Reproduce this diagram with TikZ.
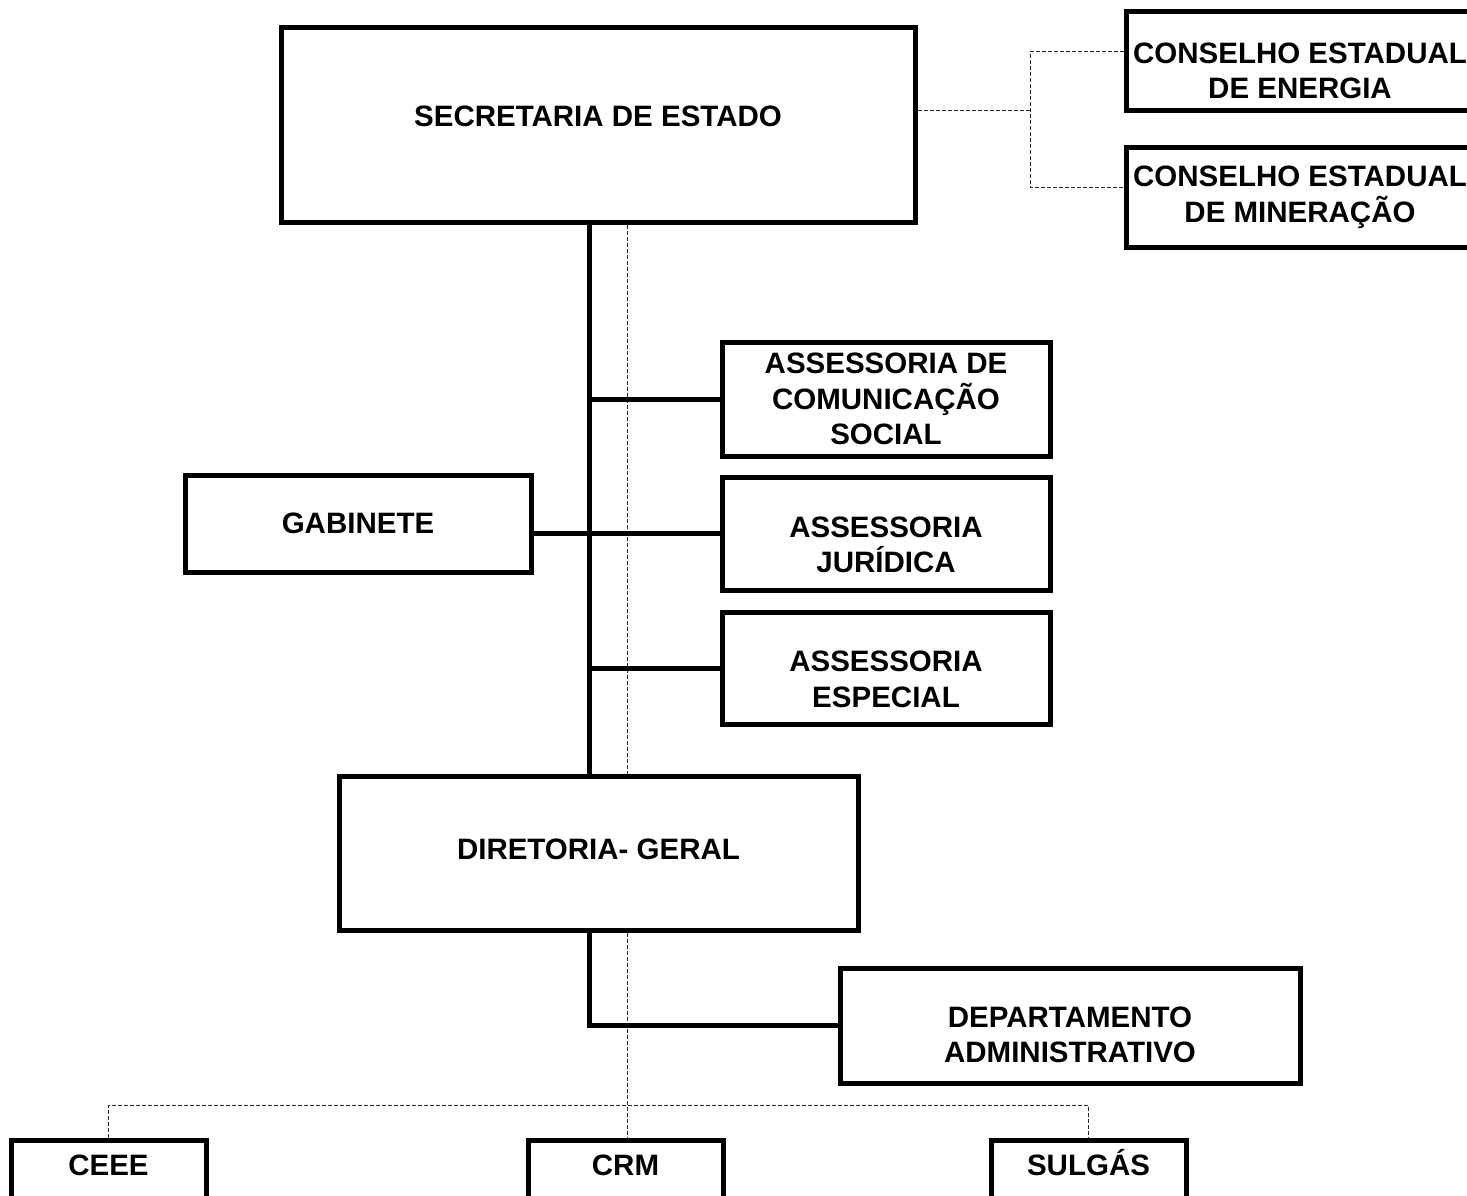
\documentclass[tikz,border=0pt]{standalone}
\usepackage{fontspec}
\setmainfont{Liberation Sans}
\begin{document}
\begin{tikzpicture}[x=1pt, y=-1pt, font=\bfseries\fontsize{29.5}{35.5}\selectfont,
  box/.style={draw, line width=5pt, align=center, inner sep=0pt},
  link/.style={line width=5pt},
  soft/.style={line width=1pt, black!85, dash pattern=on 4pt off 2pt},
  low/.style={execute at begin node={\rule{0pt}{#1}}},
  high/.style={execute at end node={\rule[-#1]{0pt}{#1}}},
  firm/.style={box, anchor=north, minimum width=195pt, inner ysep=14pt, text height=21pt, text depth=80pt}]
\useasboundingbox (0,0) rectangle (1467,1196);
\clip (0,0) rectangle (1467,1196);
\node[box, minimum width=634pt, minimum height=194pt, high=18pt] (sec) at (598,125) {SECRETARIA DE ESTADO};
\node[box, minimum width=348pt, minimum height=99pt, low=74.6pt] (ene) at (1300,61.5) {CONSELHO ESTADUAL\\DE ENERGIA};
\node[box, minimum width=348pt, minimum height=99pt] (min) at (1300,197.5) {CONSELHO ESTADUAL\\DE MINERAÇÃO};
\node[box, minimum width=328pt, minimum height=114pt] (com) at (886,399) {ASSESSORIA DE\\COMUNICAÇÃO\\SOCIAL};
\node[box, minimum width=346pt, minimum height=97pt] (gab) at (358,523.5) {GABINETE};
\node[box, minimum width=328pt, minimum height=113pt, low=78.6pt] (jur) at (886,533.5) {ASSESSORIA\\JURÍDICA};
\node[box, minimum width=328pt, minimum height=112pt, low=78.6pt] (esp) at (886,668) {ASSESSORIA\\ESPECIAL};
\node[box, minimum width=519pt, minimum height=154pt, high=8pt] (dir) at (598.5,853) {DIRETORIA- GERAL};
\node[box, minimum width=460pt, minimum height=115pt, low=74.6pt] (dep) at (1070,1025.5) {DEPARTAMENTO\\ADMINISTRATIVO};
\node[firm] (ceee) at (108.5,1137.5) {CEEE};
\node[firm] (crm) at (625.5,1137.5) {CRM};
\node[firm] (sul) at (1088.5,1137.5) {SULGÁS};
\coordinate (spine) at (589,0);
\coordinate (fork) at (1030,111);
\coordinate (bus) at (627,1105);
% dashed links
\draw[soft] (sec.east |- fork) -- (fork);
\draw[soft] ([yshift=10pt]ene.west) -| (fork) |- ([yshift=10pt]min.west);
\draw[soft] (sec.south -| bus) -- (dir.north -| bus);
\draw[soft] (dir.south -| bus) -- (bus |- crm.north);
\draw[soft] (ceee.north) |- (bus) -| (sul.north);
% solid links
\draw[link] (sec.south -| spine) -- (dir.north -| spine);
\draw[link] (com.west -| spine) -- (com.west);
\draw[link] (gab.east |- jur.west) -- (jur.west);
\draw[link] (esp.west -| spine) -- (esp.west);
\draw[link] (dir.south -| spine) |- (dep.west);
\end{tikzpicture}
\end{document}
